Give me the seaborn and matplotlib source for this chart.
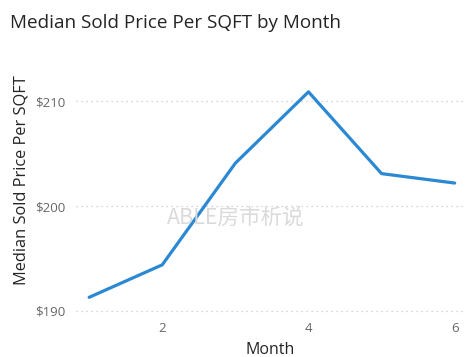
import matplotlib
matplotlib.use('Agg')
import matplotlib.pyplot as plt
import seaborn as sns
import pandas as pd

months = [1, 2, 3, 4, 5, 6]
price = [191.3, 194.4, 204.1, 210.9, 203.1, 202.2]
y_ticks = [190, 200, 210]
y_tick_labels = ['$190', '$200', '$210']
x_ticks = [2, 4, 6]

df = pd.DataFrame({'Month': months, 'Price': price})

sns.set_theme(style='white')
plt.rcParams['font.family'] = ['Open Sans', 'Noto Sans CJK SC', 'DejaVu Sans']

fig = plt.figure(figsize=(4.72, 3.57), dpi=100)
ax = fig.add_axes([0.161, 0.129, 0.824, 0.69])

sns.lineplot(data=df, x='Month', y='Price', ax=ax, color='#2b88d3', linewidth=2.3)

ax.set_xlim(0.82, 6.14)
ax.set_ylim(190, 213.5)
ax.set_yticks(y_ticks)
ax.set_yticklabels(y_tick_labels)
ax.set_xticks(x_ticks)
ax.tick_params(axis='both', length=0, labelsize=9.5, labelcolor='#666666', pad=8)

# dotted horizontal gridlines
for v in y_ticks:
    ax.axhline(v, color='#c8c8c8', linestyle=(0, (1, 3)), linewidth=0.9, zorder=0, clip_on=False)

for s in ax.spines.values():
    s.set_visible(False)

ax.set_xlabel('Month', fontsize=11.5, color='#252423', labelpad=5)
ax.set_ylabel('Median Sold Price Per SQFT', fontsize=11.8, color='#252423')
ax.yaxis.set_label_coords(-0.12, 0.53)

fig.text(0.021, 0.935, 'Median Sold Price Per SQFT by Month', fontsize=13.6,
         color='#252423', ha='left', va='center')

# watermark
ax.text(3.0, 198.9, 'ABLE房市析说', fontsize=15.5, color='#dadada',
        ha='center', va='center', family=['Noto Sans CJK SC', 'DejaVu Sans'], zorder=3)

fig.savefig('out.png', dpi=100)
